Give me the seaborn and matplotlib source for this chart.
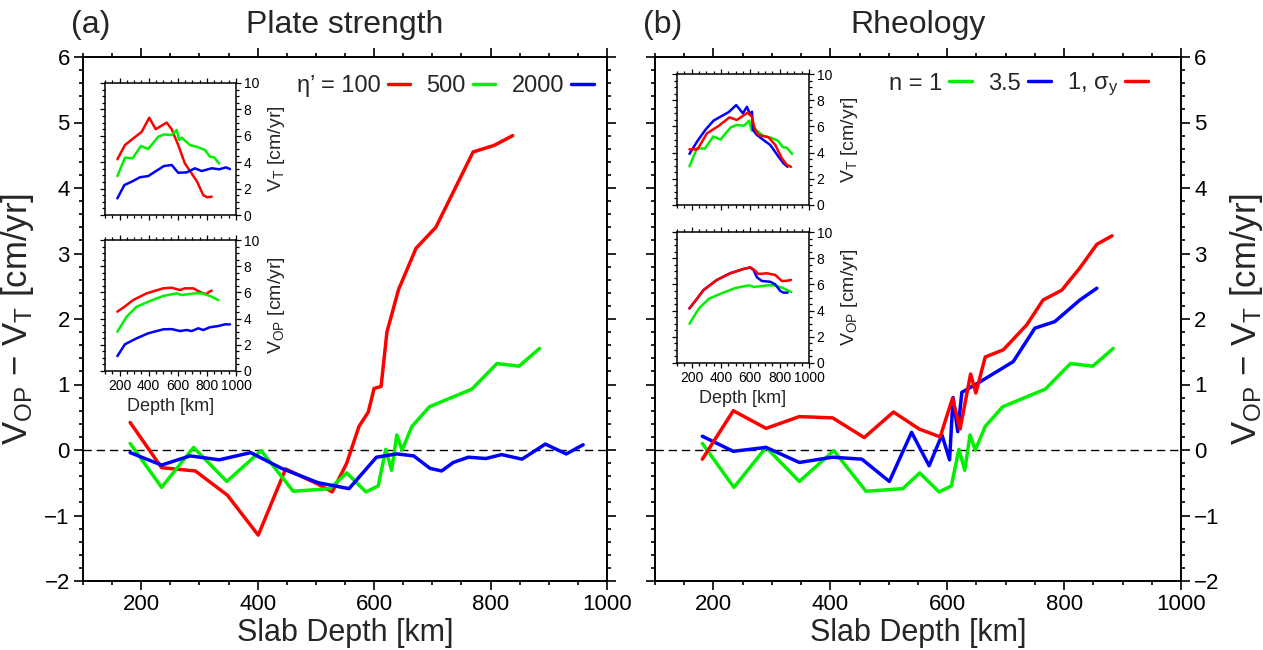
import matplotlib
matplotlib.use("Agg")
import matplotlib.pyplot as plt
from matplotlib.ticker import MultipleLocator
from matplotlib.lines import Line2D
from matplotlib import font_manager
import seaborn as sns

# ---------------- data ----------------
# Panel (a) main: V_OP - V_T vs slab depth
a_red_x = [181, 235, 293, 348, 401, 448, 501, 528, 553, 574, 590, 600, 612, 622, 642, 672, 706, 770, 806, 838]
a_red_y = [0.42, -0.27, -0.32, -0.69, -1.30, -0.29, -0.51, -0.64, -0.20, 0.36, 0.58, 0.94, 0.97, 1.80, 2.45, 3.08, 3.40, 4.55, 4.65, 4.80]
ref_green_x = [181, 235, 290, 347, 406, 461, 524, 553, 586, 607, 620, 630, 639, 648, 665, 695, 768, 811, 849, 884]
ref_green_y = [0.10, -0.57, 0.04, -0.48, -0.01, -0.63, -0.59, -0.35, -0.64, -0.55, 0.01, -0.31, 0.23, 0.00, 0.36, 0.66, 0.93, 1.32, 1.28, 1.55]
a_blue_x = [181, 235, 284, 334, 388, 441, 504, 557, 604, 639, 668, 696, 716, 736, 762, 792, 819, 854, 894, 930, 959]
a_blue_y = [-0.04, -0.23, -0.09, -0.15, -0.04, -0.28, -0.50, -0.59, -0.11, -0.06, -0.09, -0.28, -0.32, -0.19, -0.11, -0.13, -0.07, -0.14, 0.09, -0.06, 0.08]

# Panel (b) main
b_blue_x = [181, 234, 290, 347, 404, 454, 501, 539, 569, 591, 604, 610, 618, 625, 656, 713, 750, 784, 827, 856]
b_blue_y = [0.21, -0.02, 0.04, -0.19, -0.11, -0.14, -0.48, 0.27, -0.24, 0.23, -0.15, 0.80, 0.28, 0.88, 1.04, 1.35, 1.86, 1.96, 2.29, 2.47]
b_red_x = [181, 234, 290, 347, 404, 458, 508, 552, 588, 609, 622, 640, 649, 665, 696, 736, 764, 796, 827, 856, 882]
b_red_y = [-0.14, 0.60, 0.33, 0.51, 0.49, 0.19, 0.58, 0.32, 0.20, 0.79, 0.32, 1.16, 0.87, 1.42, 1.53, 1.91, 2.29, 2.44, 2.78, 3.14, 3.27]

# Inset V_T (trench velocity)
vt_a_red_x = [185, 237, 294, 352, 404, 448, 524, 558, 603, 649, 695, 734, 775, 803, 833]
vt_a_red_y = [4.22, 5.3, 5.8, 6.3, 7.37, 6.5, 7.0, 6.5, 5.3, 3.9, 3.16, 2.5, 1.5, 1.34, 1.39]
vt_green_x = [185, 237, 290, 347, 397, 466, 505, 558, 592, 610, 627, 645, 684, 741, 787, 821, 849, 885]
vt_green_y = [2.95, 4.34, 4.3, 5.23, 5.0, 5.93, 6.1, 6.06, 6.44, 5.68, 5.86, 5.68, 5.3, 5.13, 4.92, 4.42, 4.37, 3.9]
vt_a_blue_x = [185, 233, 283, 340, 397, 455, 505, 558, 603, 661, 718, 764, 833, 885, 931, 959]
vt_a_blue_y = [1.26, 2.27, 2.52, 2.86, 2.95, 3.36, 3.71, 3.79, 3.2, 3.23, 3.54, 3.33, 3.54, 3.46, 3.61, 3.48]
vt_b_blue_x = [185, 236, 293, 349, 406, 451, 504, 549, 577, 599, 611, 618, 645, 690, 736, 792, 826, 854]
vt_b_blue_y = [3.9, 4.83, 5.73, 6.44, 6.8, 7.08, 7.63, 7.0, 7.5, 6.87, 7.12, 5.73, 5.34, 4.96, 4.58, 3.69, 3.18, 2.92]
vt_b_red_x = [185, 240, 304, 383, 458, 508, 581, 611, 626, 640, 656, 724, 770, 815, 850, 877]
vt_b_red_y = [4.25, 4.25, 5.47, 6.03, 6.69, 6.49, 7.05, 6.74, 5.98, 5.6, 5.34, 5.17, 4.58, 3.56, 3.05, 2.92]

# Inset V_OP (overriding plate velocity)
vop_a_red_x = [185, 237, 294, 386, 500, 558, 615, 649, 706, 741, 775, 798, 816, 833]
vop_a_red_y = [4.53, 4.93, 5.42, 5.93, 6.31, 6.36, 6.18, 6.31, 6.31, 6.1, 5.93, 5.88, 6.05, 6.13]
vop_green_x = [185, 249, 318, 409, 500, 592, 627, 661, 718, 764, 821, 878]
vop_green_y = [3.0, 4.15, 4.91, 5.34, 5.73, 5.93, 5.8, 5.85, 5.93, 5.93, 5.73, 5.42]
vop_a_blue_x = [185, 237, 318, 397, 500, 558, 615, 661, 695, 741, 775, 821, 878, 924, 959]
vop_a_blue_y = [1.14, 2.04, 2.5, 2.88, 3.18, 3.2, 3.05, 3.13, 3.05, 3.26, 3.13, 3.34, 3.43, 3.56, 3.56]
vop_b_red_x = [185, 236, 281, 372, 463, 554, 599, 622, 656, 713, 770, 815, 850, 877]
vop_b_red_y = [4.17, 4.9, 5.57, 6.34, 6.85, 7.18, 7.31, 7.15, 6.79, 6.85, 6.72, 6.26, 6.28, 6.34]
vop_b_blue_x = [185, 236, 281, 372, 463, 554, 599, 622, 645, 679, 736, 770, 804, 826, 854]
vop_b_blue_y = [4.17, 4.9, 5.57, 6.34, 6.85, 7.18, 7.28, 7.1, 6.54, 6.26, 6.2, 6.0, 5.5, 5.37, 5.37]

legend_a = ["η’ = 100", "500", "2000"]
legend_b = ["n = 1", "3.5", "1, σ$_{\\rm y}$"]
titles = ["Plate strength", "Rheology"]
panel_tags = ["(a)", "(b)"]

RED, GREEN, BLUE = "#ff0000", "#00f000", "#0000ff"

# ---------------- style ----------------
sns.set_style("ticks")
avail = {f.name for f in font_manager.fontManager.ttflist}
FONT = "Liberation Sans" if "Liberation Sans" in avail else "DejaVu Sans"
plt.rcParams["font.family"] = [FONT, "DejaVu Sans"]
plt.rcParams["mathtext.fontset"] = "custom"
plt.rcParams["mathtext.rm"] = FONT
plt.rcParams["mathtext.it"] = FONT + ":italic"
plt.rcParams["mathtext.bf"] = FONT + ":bold"
plt.rcParams["axes.unicode_minus"] = True

fig = plt.figure(figsize=(12.63, 6.5), dpi=100)
W, H = 1263, 650


def px_axes(x0, y0, x1, y1):
    return fig.add_axes([x0 / W, (H - y1) / H, (x1 - x0) / W, (y1 - y0) / H])


ax_a = px_axes(83, 57, 607, 581)
ax_b = px_axes(655, 57, 1181, 581)
in_a_top = px_axes(105, 83, 236, 215)
in_a_bot = px_axes(105, 240, 236, 371)
in_b_top = px_axes(677, 74, 809, 205)
in_b_bot = px_axes(677, 232, 809, 363)


def line(ax, x, y, color, lw):
    sns.lineplot(x=x, y=y, ax=ax, color=color, lw=lw, sort=False,
                 estimator=None, legend=False)


def style_main(ax, left_labels):
    ax.set_xlim(100, 1000)
    ax.set_ylim(-2, 6)
    ax.xaxis.set_major_locator(MultipleLocator(200))
    ax.xaxis.set_minor_locator(MultipleLocator(50))
    ax.yaxis.set_major_locator(MultipleLocator(1))
    ax.yaxis.set_minor_locator(MultipleLocator(0.2))
    ax.tick_params(which="both", direction="out", top=True, bottom=True,
                   left=True, right=True, width=1.2, colors="black",
                   labelsize=16, labelleft=left_labels,
                   labelright=not left_labels, pad=3)
    ax.tick_params(which="major", length=6.5)
    ax.tick_params(which="minor", length=3)
    for s in ax.spines.values():
        s.set_linewidth(1.4)
        s.set_color("black")
    ax.axhline(0, color="black", lw=1.0, dashes=(6, 3.5), zorder=1)
    ax.set_xlabel("Slab Depth [km]", fontsize=22, labelpad=2)
    ylab = "V$_{\\rm OP}$ − V$_{\\rm T}$ [cm/yr]"
    if not left_labels:
        ax.yaxis.set_label_position("right")
    ax.set_ylabel(ylab, fontsize=25, labelpad=6)


def style_inset(ax, show_x, ylab):
    ax.set_xlim(100, 1000)
    ax.set_ylim(0, 10)
    ax.xaxis.set_major_locator(MultipleLocator(200))
    ax.xaxis.set_minor_locator(MultipleLocator(50))
    ax.yaxis.set_major_locator(MultipleLocator(2))
    ax.yaxis.set_minor_locator(MultipleLocator(0.5))
    ax.tick_params(which="both", direction="out", top=True, bottom=True,
                   left=True, right=True, width=0.9, colors="black",
                   labelsize=10, labelleft=False, labelright=True,
                   labelbottom=show_x, pad=2)
    ax.tick_params(which="major", length=3.5)
    ax.tick_params(which="minor", length=2)
    for s in ax.spines.values():
        s.set_linewidth(1.1)
        s.set_color("black")
    ax.yaxis.set_label_position("right")
    ax.set_ylabel(ylab, fontsize=14, labelpad=5)
    if show_x:
        ax.set_xlabel("Depth [km]", fontsize=13, labelpad=4)
    ax.set_facecolor("white")


# ---- panel (a) ----
style_main(ax_a, True)
line(ax_a, a_red_x, a_red_y, RED, 2.5)
line(ax_a, ref_green_x, ref_green_y, GREEN, 2.5)
line(ax_a, a_blue_x, a_blue_y, BLUE, 2.5)

# ---- panel (b) ----
style_main(ax_b, False)
line(ax_b, ref_green_x, ref_green_y, GREEN, 2.5)
line(ax_b, b_blue_x, b_blue_y, BLUE, 2.5)
line(ax_b, b_red_x, b_red_y, RED, 2.5)

# ---- insets ----
style_inset(in_a_top, False, "V$_{\\rm T}$ [cm/yr]")
line(in_a_top, vt_a_red_x, vt_a_red_y, RED, 1.8)
line(in_a_top, vt_green_x, vt_green_y, GREEN, 1.8)
line(in_a_top, vt_a_blue_x, vt_a_blue_y, BLUE, 1.8)

style_inset(in_a_bot, True, "V$_{\\rm OP}$ [cm/yr]")
line(in_a_bot, vop_a_red_x, vop_a_red_y, RED, 1.8)
line(in_a_bot, vop_green_x, vop_green_y, GREEN, 1.8)
line(in_a_bot, vop_a_blue_x, vop_a_blue_y, BLUE, 1.8)

style_inset(in_b_top, False, "V$_{\\rm T}$ [cm/yr]")
line(in_b_top, vt_green_x, vt_green_y, GREEN, 1.8)
line(in_b_top, vt_b_blue_x, vt_b_blue_y, BLUE, 1.8)
line(in_b_top, vt_b_red_x, vt_b_red_y, RED, 1.8)

style_inset(in_b_bot, True, "V$_{\\rm OP}$ [cm/yr]")
line(in_b_bot, vop_green_x, vop_green_y, GREEN, 1.8)
line(in_b_bot, vop_b_blue_x, vop_b_blue_y, BLUE, 1.8)
line(in_b_bot, vop_b_red_x, vop_b_red_y, RED, 1.8)

# ---- legends ----
def legend(ax, labels, colors, anchor):
    handles = [Line2D([], [], color=c, lw=2.5) for c in colors]
    ax.legend(handles, labels, markerfirst=False, ncol=3, frameon=False,
              loc="center right", bbox_to_anchor=anchor, fontsize=17,
              handlelength=0.95, handletextpad=0.3, columnspacing=0.7,
              borderpad=0, borderaxespad=0)

legend(ax_a, legend_a, [RED, GREEN, BLUE], (0.975, 0.945))
legend(ax_b, legend_b, [GREEN, BLUE, RED], (0.937, 0.947))

# ---- titles ----
for ax, t, tag in [(ax_a, titles[0], panel_tags[0]), (ax_b, titles[1], panel_tags[1])]:
    ax.text(0.5, 1.061, t, transform=ax.transAxes, ha="center", va="center", fontsize=23)
    ax.text(-0.022, 1.061, tag, transform=ax.transAxes, ha="left", va="center", fontsize=23)

fig.savefig("out.png", dpi=100)
